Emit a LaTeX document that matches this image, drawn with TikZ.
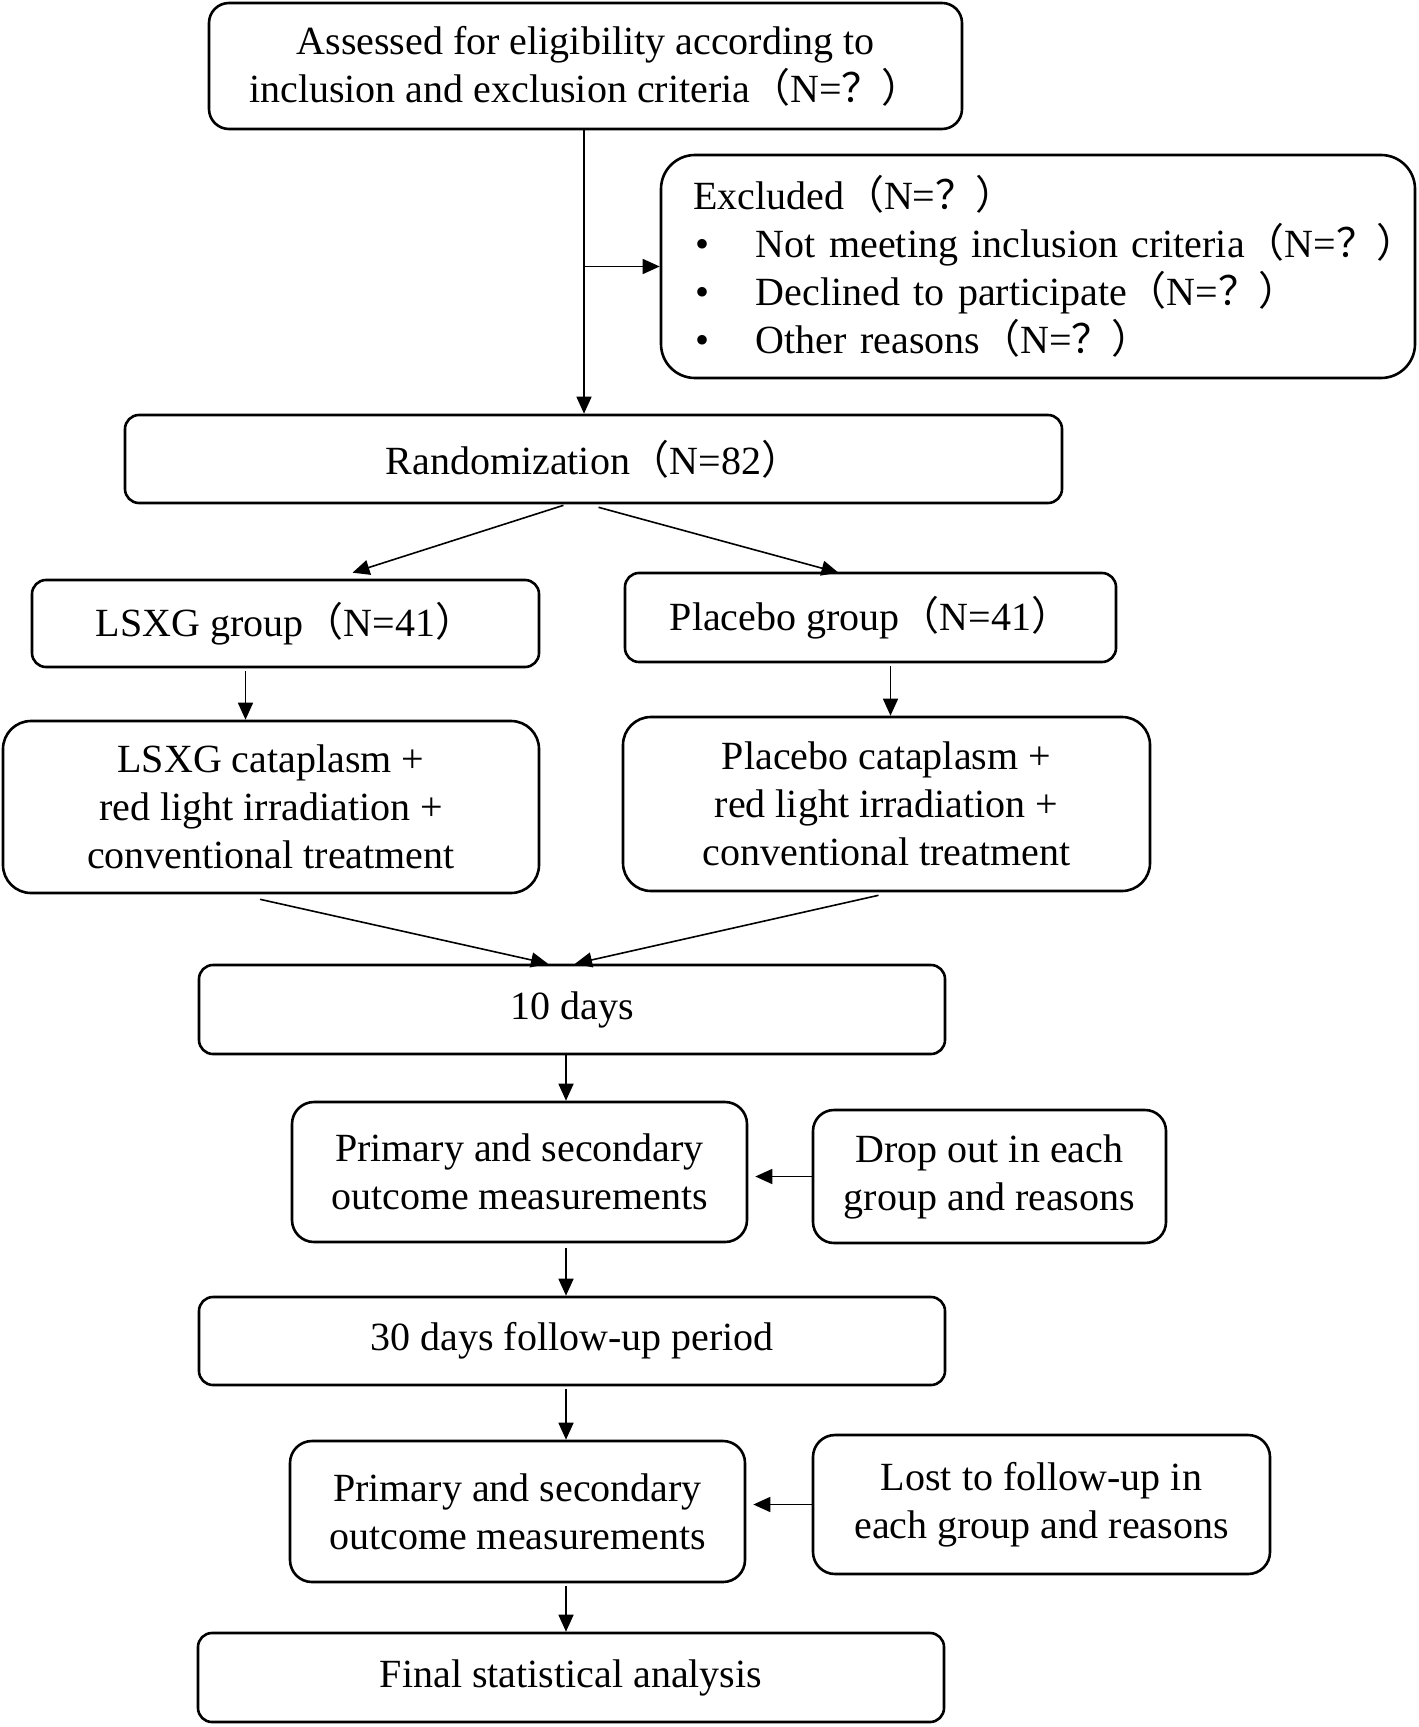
\documentclass[tikz,border=0pt]{standalone}
\usepackage{fontspec}
\setmainfont{Liberation Serif}
\newfontfamily\cjkfw{Noto Sans CJK SC}
\usetikzlibrary{arrows.meta,calc}
\newcommand\FWl{{\cjkfw （}}
\newcommand\FWr{{\cjkfw ）}}
\newcommand\FWq{{\cjkfw ？}}
\newcommand\bitem[1]{\mbox{\makebox[31.5pt][l]{\hspace{1pt}•}#1}}
\begin{document}
\begin{tikzpicture}[x=0.5pt,y=-0.5pt,
  box/.style={draw, line width=1.3pt, rounded corners=7pt, align=center, inner sep=0pt,
    font=\fontsize{20pt}{24pt}\selectfont},
  arr/.style={line width=0.8pt, -{Triangle[length=8.5pt,width=7.5pt]}}]
\useasboundingbox (0,0) rectangle (1418,1727);

\node[box, rounded corners=10pt, minimum width=376.5pt, minimum height=63pt] (a) at (585.5,66)
  {Assessed for eligibility according to\\inclusion and exclusion criteria\FWl N=\FWq\FWr};
\node[box, rounded corners=17pt, align=left, text width=345pt, inner xsep=16pt, minimum height=111.5pt] (ex) at (1038,266.5)
  {\mbox{Excluded\FWl N=\FWq\FWr}\\
   \bitem{Not meeting inclusion criteria\FWl N=\FWq\FWr}\\
   \bitem{Declined to participate\FWl N=\FWq\FWr}\\
   \bitem{Other reasons\FWl N=\FWq\FWr}};
\node[box, minimum width=468.5pt, minimum height=44pt] (rand) at (593.5,459)
  {Randomization\FWl N=82\FWr};
\node[box, minimum width=253.5pt, minimum height=43.5pt] (lg) at (285.5,623.5)
  {LSXG group\FWl N=41\FWr};
\node[box, minimum width=245.5pt, minimum height=44.5pt] (pg) at (870.5,617.5)
  {Placebo group\FWl N=41\FWr};
\node[box, rounded corners=14pt, minimum width=268pt, minimum height=86pt] (lc) at (271,807)
  {LSXG cataplasm +\\red light irradiation +\\conventional treatment};
\node[box, rounded corners=14pt, minimum width=263.5pt, minimum height=87pt] (pc) at (886.5,804)
  {Placebo cataplasm +\\red light irradiation +\\conventional treatment};
\node[box, minimum width=373pt, minimum height=44.5pt] (d10) at (572,1009.5) {10 days};
\node[box, rounded corners=11pt, minimum width=227.5pt, minimum height=70pt] (p1) at (519.5,1172)
  {Primary and secondary\\outcome measurements};
\node[box, rounded corners=10.5pt, minimum width=176.5pt, minimum height=66.5pt] (drop) at (989.5,1176.5)
  {Drop out in each\\group and reasons};
\node[box, minimum width=373pt, minimum height=44pt] (d30) at (572,1341)
  {30 days follow-up period};
\node[box, rounded corners=11pt, minimum width=227.5pt, minimum height=70.5pt] (p2) at (517.5,1511.5)
  {Primary and secondary\\outcome measurements};
\node[box, rounded corners=11pt, minimum width=228.5pt, minimum height=69.5pt] (lost) at (1041.5,1504.5)
  {Lost to follow-up in\\each group and reasons};
\node[box, minimum width=373pt, minimum height=44.5pt] (fin) at (571,1677.5)
  {Final statistical analysis};

% connectors
\coordinate (aout) at ($(a.south)+(-1.5,0)$);
\draw[arr] (aout) -- (aout |- rand.north);
\draw[arr] (aout |- ex.west) -- (ex.west);
\draw[arr] ($(rand.south)+(-30,1)$) -- ($(lg.north)+(67,-6)$);
\draw[arr] ($(rand.south)+(5,3)$) -- ($(pg.north)+(-32,1)$);
\coordinate (lgo) at ($(lg.south)+(-40,3)$);
\draw[arr] (lgo) -- (lgo |- lc.north);
\coordinate (pgo) at ($(pg.south)+(20,3)$);
\draw[arr] (pgo) -- (pgo |- pc.north);
\draw[arr] ($(lc.south)+(-11,5)$) -- ($(d10.north)+(-24,0)$);
\draw[arr] ($(pc.south)+(-8,3)$) -- ($(d10.north)+(3,0)$);
\coordinate (mx) at ($(d10.south)+(-6,0)$);
\draw[arr] (mx) -- (mx |- p1.north);
\draw[arr] ($(mx |- p1.south)+(0,5)$) -- (mx |- d30.north);
\draw[arr] ($(mx |- d30.south)+(0,3)$) -- (mx |- p2.north);
\draw[arr] ($(mx |- p2.south)+(0,3)$) -- (mx |- fin.north);
\draw[arr] (drop.west) -- ($(p1.east |- drop.west)+(7,0)$);
\draw[arr] (lost.west) -- ($(p2.east |- lost.west)+(7,0)$);
\end{tikzpicture}
\end{document}
